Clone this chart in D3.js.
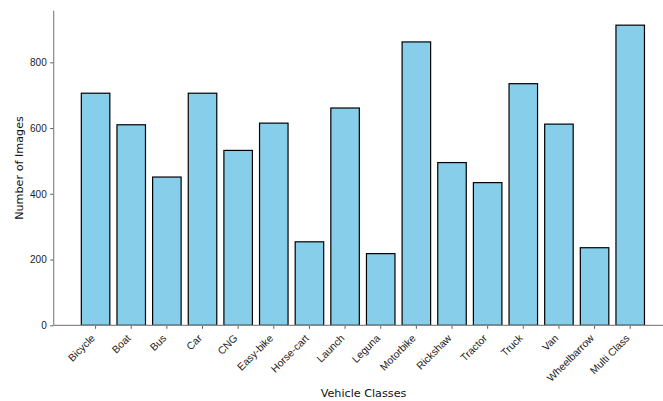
<!DOCTYPE html>
<html>
<head>
<meta charset="utf-8">
<script src="https://cdn.jsdelivr.net/npm/d3@7"></script>
<style>
  html, body { margin: 0; padding: 0; background: #fff; }
  svg { display: block; font-family: "DejaVu Sans", sans-serif; }
</style>
</head>
<body>
<svg id="chart" width="663" height="401"></svg>
<script>
const categories = ["Bicycle", "Boat", "Bus", "Car", "CNG", "Easy-bike", "Horse-cart", "Launch", "Leguna", "Motorbike", "Rickshaw", "Tractor", "Truck", "Van", "Wheelbarrow", "Multi Class"];
const counts = [706, 610, 451, 706, 532, 615, 254, 661, 218, 862, 495, 434, 735, 612, 236, 913];
const yTicks = [0, 200, 400, 600, 800];
const xLabel = "Vehicle Classes";
const yLabel = "Number of Images";

const svg = d3.select("#chart");
const axLeft = 53.7, axRight = 663, axTop = 10.7, axBottom = 325.3;

const x = d3.scaleBand().domain(categories).range([74.2, 651.6]).paddingInner(0.2).paddingOuter(0.2);
const y = d3.scaleLinear().domain([0, 957]).range([axBottom, axTop]);

// bars
svg.append("g").selectAll("rect").data(categories).join("rect")
  .attr("x", d => x(d))
  .attr("y", (d, i) => y(counts[i]))
  .attr("width", x.bandwidth())
  .attr("height", (d, i) => y(0) - y(counts[i]))
  .attr("fill", "#87CEEB")
  .attr("stroke", "#000")
  .attr("stroke-width", 1.2);

// y axis
const yAxis = svg.append("g").attr("transform", `translate(${axLeft},0)`)
  .call(d3.axisLeft(y).tickValues(yTicks).tickSize(3.5).tickPadding(3.5));
yAxis.select(".domain").remove();
yAxis.selectAll(".tick line").attr("stroke", "#333").attr("stroke-width", 0.8);
yAxis.selectAll(".tick text").attr("fill", "#222").style("font-size", "10px");
svg.append("line").attr("x1", axLeft).attr("x2", axLeft).attr("y1", y.range()[1]).attr("y2", y.range()[0])
  .attr("stroke", "#888").attr("stroke-width", 1.2);

// x axis
const xAxis = svg.append("g").attr("transform", `translate(0,${axBottom})`)
  .call(d3.axisBottom(x).tickSize(3.5).tickPadding(3));
xAxis.select(".domain").remove();
xAxis.selectAll(".tick line").attr("stroke", "#333").attr("stroke-width", 0.8);
xAxis.selectAll(".tick text")
  .attr("fill", "#222").style("font-size", "10.4px")
  .attr("text-anchor", "end")
  .attr("x", 0).attr("y", 0)
  .attr("dy", "0.35em")
  .attr("transform", "translate(-2.5,11) rotate(-45)");
svg.append("line").attr("x1", axLeft).attr("x2", axRight).attr("y1", axBottom).attr("y2", axBottom)
  .attr("stroke", "#888").attr("stroke-width", 1.2);

// labels
svg.append("text").attr("x", 363.5).attr("y", 396.7)
  .attr("text-anchor", "middle").style("font-size", "11.2px").attr("fill", "#111").text(xLabel);
svg.append("text").attr("transform", `translate(22.7,${(axTop + axBottom) / 2}) rotate(-90)`)
  .attr("text-anchor", "middle").style("font-size", "11.2px").attr("fill", "#111").text(yLabel);
</script>
</body>
</html>
